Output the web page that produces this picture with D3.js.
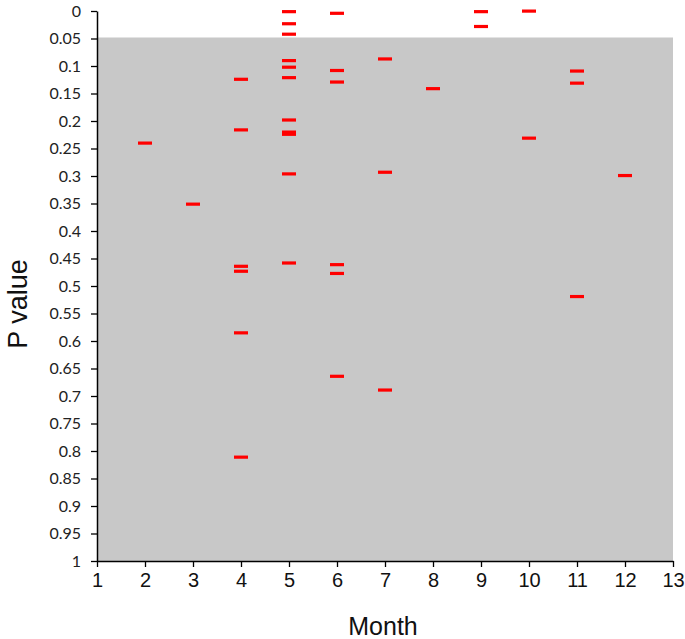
<!DOCTYPE html>
<html>
<head>
<meta charset="utf-8">
<script src="https://cdn.jsdelivr.net/npm/d3@7/dist/d3.min.js"></script>
<style>
body{margin:0;background:#fff;}
svg{display:block;}
</style>
</head>
<body>
<svg id="chart" width="685" height="639"></svg>
<script>
// Data: month and P value of each mark
const months  = [2, 3, 4, 4, 4, 4, 4, 4, 5, 5, 5, 5, 5, 5, 5, 5, 5, 5, 5, 6, 6, 6, 6, 6, 6, 7, 7, 7, 8, 9, 9, 10, 10, 11, 11, 11, 12];
const pValues = [0.240, 0.351, 0.124, 0.216, 0.464, 0.473, 0.585, 0.811,
                 0.001, 0.023, 0.042, 0.090, 0.102, 0.121, 0.198, 0.220, 0.224, 0.296, 0.458,
                 0.004, 0.108, 0.129, 0.461, 0.477, 0.664,
                 0.087, 0.293, 0.689,
                 0.141,
                 0.001, 0.028,
                 0.000, 0.231,
                 0.109, 0.131, 0.519,
                 0.299];
const xTicks = d3.range(1, 14);
const yTicks = d3.range(0, 21).map(i => +(i * 0.05).toFixed(2));
const shadeFrom = 0.05;

const svg = d3.select("#chart");
const x = d3.scaleLinear().domain([1, 13]).range([97, 673]);
const y = d3.scaleLinear().domain([0, 1]).range([11, 561]);

// shaded region (non-significant)
svg.append("rect")
  .attr("x", x(1)).attr("y", y(shadeFrom) - 1)
  .attr("width", x(13) - x(1)).attr("height", y(1) - y(shadeFrom) + 1)
  .attr("fill", "#c8c8c8");

// y axis
const yAxis = d3.axisLeft(y).tickValues(yTicks).tickSize(6).tickSizeOuter(0)
  .tickFormat(d => d3.format("")(d));
const gy = svg.append("g").attr("transform", `translate(${x(1)},0)`).call(yAxis);
gy.select(".domain").attr("stroke", "#000").attr("stroke-width", 1.5);
gy.selectAll(".tick line").attr("stroke", "#000").attr("stroke-width", 1.3);
gy.selectAll(".tick text").attr("font-family", "Lato, 'Open Sans', sans-serif")
  .attr("font-size", 16).attr("fill", "#222").attr("x", -16);

// x axis
const xAxis = d3.axisBottom(x).tickValues(xTicks).tickSize(6).tickSizeOuter(0);
const gx = svg.append("g").attr("transform", `translate(0,${y(1)})`).call(xAxis);
gx.select(".domain").attr("stroke", "#000").attr("stroke-width", 1.5);
gx.selectAll(".tick line").attr("stroke", "#000").attr("stroke-width", 1.3);
gx.selectAll(".tick text").attr("font-family", "'Liberation Sans', Arial, sans-serif")
  .attr("font-size", 20).attr("fill", "#111").attr("y", 12);

// marks
const data = months.map((m, i) => ({m, p: pValues[i]}));
svg.append("g").selectAll("rect").data(data).join("rect")
  .attr("x", d => x(d.m) - 7)
  .attr("y", d => y(d.p) - 1.5)
  .attr("width", 14).attr("height", 3.2)
  .attr("fill", "#ff0000");

// axis titles
svg.append("text")
  .attr("x", (x(1) + x(13)) / 2 - 2).attr("y", 635)
  .attr("text-anchor", "middle")
  .attr("font-family", "'Liberation Sans', Arial, sans-serif")
  .attr("font-size", 25).attr("fill", "#111")
  .text("Month");
svg.append("text")
  .attr("transform", "translate(27,304) rotate(-90)")
  .attr("text-anchor", "middle")
  .attr("font-family", "'Liberation Sans', Arial, sans-serif")
  .attr("font-size", 27).attr("fill", "#111")
  .text("P value");
</script>
</body>
</html>
